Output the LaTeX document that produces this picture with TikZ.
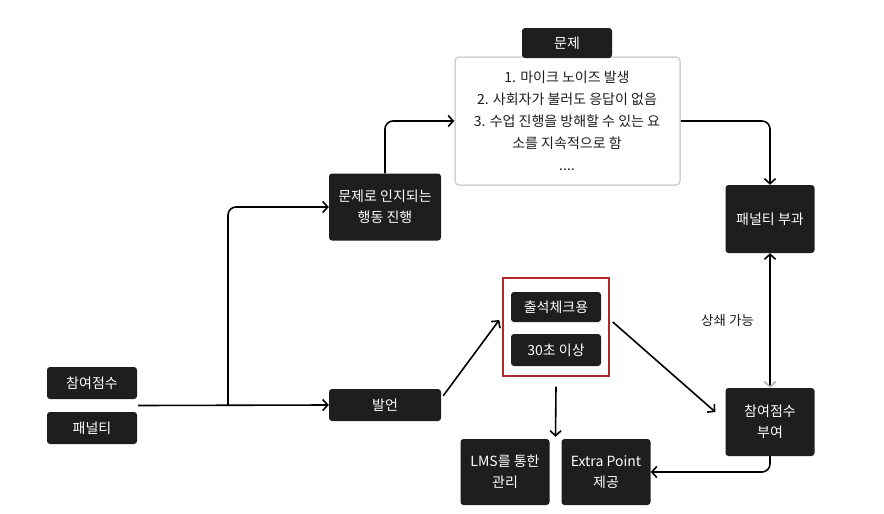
\documentclass[tikz,border=0pt]{standalone}
\usepackage{fontspec}
\setmainfont{Noto Sans CJK KR}
\usetikzlibrary{positioning, arrows.meta, calc}
\definecolor{boxfill}{HTML}{1E1E1E}
\definecolor{boxline}{HTML}{D2D2D2}
\definecolor{markred}{HTML}{B3262B}
\tikzset{
    darkbox/.style={rectangle, rounded corners=3pt, fill=boxfill, text=white, align=center, font=\fontsize{14}{21}\selectfont, inner sep=0pt},
    flow/.style={line width=1.6pt, -{Straight Barb[length=5pt, width=11pt, line width=1.6pt]}},
    plain/.style={line width=1.6pt}
}

\begin{document}
\begin{tikzpicture}[x=1pt, y=-1pt]
    \useasboundingbox (0,0) rectangle (884,514);
    \fill[white] (0,0) rectangle (884,514);

    % left side
    \node[darkbox, minimum width=90pt, minimum height=32pt] (score) at (92, 383) {참여점수};
    \node[darkbox, minimum width=90pt, minimum height=32pt] (penalty) at (92, 428) {패널티};
    \node[darkbox, minimum width=112pt, minimum height=67pt] (action) at (385, 207) {문제로 인지되는\\행동 진행};
    \node[darkbox, minimum width=112pt, minimum height=32pt] (speak) at (385, 405) {발언};

    % problem box
    \node[rectangle, rounded corners=4pt, draw=boxline, line width=1.5pt, fill=white, minimum width=225pt, minimum height=128pt] (issues) at (567.5, 121) {};
    \node[darkbox, minimum width=90pt, minimum height=30pt] (issuehead) at (567, 43) {문제};
    \node[align=center, font=\fontsize{14}{22}\selectfont, text=boxfill] (issuetext) at (567, 121) {1. 마이크 노이즈 발생\\2. 사회자가 불러도 응답이 없음\\3. 수업 진행을 방해할 수 있는 요\\소를 지속적으로 함\\....};

    % right side
    \node[darkbox, minimum width=89pt, minimum height=68pt] (impose) at (770, 219) {패널티 부과};
    \node[darkbox, minimum width=89pt, minimum height=68pt] (grant) at (770, 422) {참여점수\\부여};

    % attendance group
    \node[rectangle, draw=markred, line width=1.5pt, minimum width=106pt, minimum height=98pt] (group) at (556, 327) {};
    \node[darkbox, minimum width=90pt, minimum height=30pt] (attend) at (556, 307) {출석체크용};
    \node[darkbox, minimum width=90pt, minimum height=32pt] (thirty) at (556, 350) {30초 이상};

    % bottom
    \node[darkbox, minimum width=89pt, minimum height=66pt] (lms) at (505, 472) {LMS를 통한\\관리};
    \node[darkbox, minimum width=89pt, minimum height=66pt] (extra) at (606, 472) {Extra Point\\제공};

    % connectors
    \coordinate (split) at (228, 405);
    \draw[flow] ($(score.east)!0.5!(penalty.east)+(1,0)$) -- (speak.west);
    \draw[flow, rounded corners=8pt] (split) |- (action.west);
    \draw[flow, rounded corners=8pt] (action.north) |- (issues.west);
    \draw[flow, rounded corners=8pt] (issues.east) -| (impose.north);
    \draw[flow] ($(speak.north east)+(2,7)$) -- ($(group.west)+(-3,-7)$);
    \draw[flow] ($(group.east)+(3,-5)$) -- ($(grant.west)+(-10,-10)$);
    \draw[flow] ($(group.south)+(0,10)$) -- ($(lms.north east)!0.5!(extra.north west)+(0,-2)$);
    \draw[flow, rounded corners=8pt] (grant.south) |- (extra.east);
    \draw[plain, {Straight Barb[length=5pt, width=11pt, line width=1.6pt]}-{Straight Barb[length=5pt, width=11pt, line width=1.6pt, color=gray!60]}] (impose.south) -- node[left=12pt, font=\fontsize{13.5}{15}\selectfont, text=boxfill] (offset) {상쇄 가능} (grant.north);
\end{tikzpicture}
\end{document}
